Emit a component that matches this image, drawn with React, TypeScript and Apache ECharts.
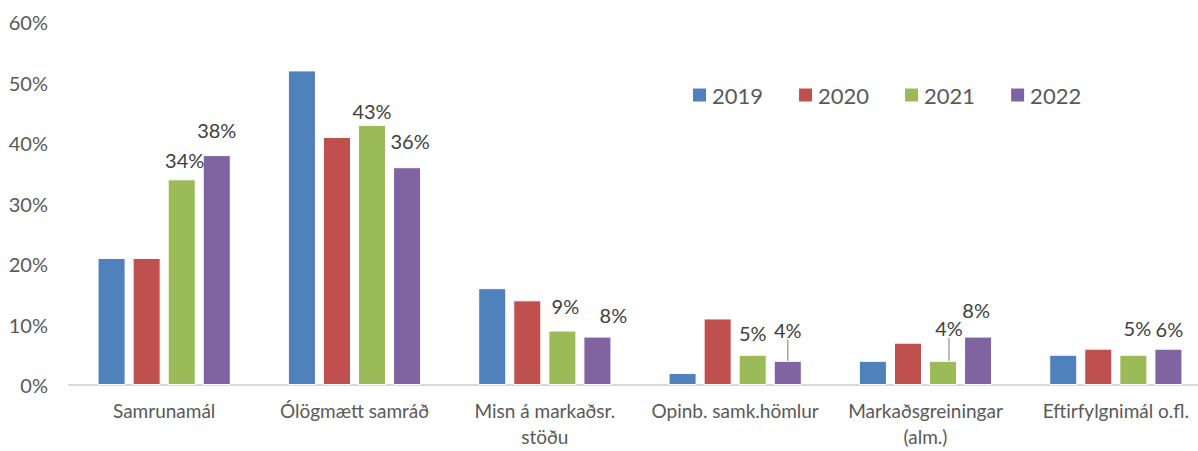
import React, { useEffect, useRef } from "react";
import * as echarts from "echarts";

const categories = [
  "Samrunamál",
  "Ólögmætt samráð",
  "Misn á markaðsr.\nstöðu",
  "Opinb. samk.hömlur",
  "Markaðsgreiningar\n(alm.)",
  "Eftirfylgnimál o.fl.",
];
const years = ["2019", "2020", "2021", "2022"];
const values2019 = [21, 52, 16, 2, 4, 5];
const values2020 = [21, 41, 14, 11, 7, 6];
const values2021 = [34, 43, 9, 5, 4, 5];
const values2022 = [38, 36, 8, 4, 8, 6];
const yTicks = [0, 10, 20, 30, 40, 50, 60];

const colors = ["#4F81BD", "#C0504D", "#9BBB59", "#8064A2"];
const FONT = "Lato";

// label nudges (style only)
const nudge2021 = [
  [3, -4],
  [0, 1],
  [3, -10],
  [0, -7],
  [6, -18],
  [4, -12],
];
const nudge2022 = [
  [0, -10],
  [3, -11],
  [16, -7],
  [0, -16],
  [-2, -12],
  [1, -5],
];
const leader2021 = [4];
const leader2022 = [3];

export default function App() {
  const ref = useRef<HTMLDivElement>(null);
  useEffect(() => {
    document.body.style.margin = "0";
    if (!ref.current) return;
    const chart = echarts.init(ref.current, undefined, { renderer: "svg" });
    const allValues = [values2019, values2020, values2021, values2022];
    const series = years.map((y, si) => {
      const labeled = si >= 2;
      const leaders = si === 2 ? leader2021 : si === 3 ? leader2022 : [];
      const nudges = si === 2 ? nudge2021 : nudge2022;
      return {
        name: y,
        type: "bar",
        barGap: "25%",
        barCategoryGap: "30%",
        itemStyle: { color: colors[si], borderColor: "#ffffff", borderWidth: 1 },
        label: {
          show: labeled,
          position: "top",
          distance: 5,
          formatter: "{c}%",
          color: "#404040",
          fontSize: 20,
          fontFamily: FONT,
        },
        labelLine: { show: false },
        labelLayout: labeled
          ? (p: any) => ({ dx: nudges[p.dataIndex][0], dy: nudges[p.dataIndex][1] })
          : undefined,
        data: allValues[si].map((v, i) =>
          leaders.includes(i)
            ? {
                value: v,
                labelLine: { show: true, lineStyle: { color: "#a6a6a6", width: 1.5 } },
              }
            : v
        ),
      };
    });
    chart.setOption({
      animation: false,
      color: colors,
      textStyle: { fontFamily: FONT },
      grid: { left: 69, width: 1142, top: 22, height: 363, outerBoundsMode: "none", containLabel: false },
      legend: {
        data: years,
        left: 686,
        top: 79,
        itemWidth: 15,
        itemHeight: 15,
        itemGap: 34,
        icon: "rect",
        textStyle: { fontSize: 22, color: "#595959", fontFamily: FONT },
      },
      xAxis: {
        type: "category",
        data: categories,
        axisLine: { lineStyle: { color: "#d9d9d9", width: 2 } },
        axisTick: { show: false },
        axisLabel: {
          color: "#595959",
          fontSize: 19,
          fontFamily: FONT,
          margin: 12,
          lineHeight: 26,
          interval: 0,
        },
      },
      yAxis: {
        type: "value",
        min: yTicks[0],
        max: yTicks[yTicks.length - 1],
        interval: 10,
        axisLine: { show: false },
        axisTick: { show: false },
        splitLine: { show: false },
        axisLabel: {
          formatter: "{value}%",
          color: "#595959",
          fontSize: 20,
          fontFamily: FONT,
          margin: 21,
        },
      },
      series,
    });
    return () => chart.dispose();
  }, []);
  return <div ref={ref} style={{ width: 1198, height: 451 }} />;
}
